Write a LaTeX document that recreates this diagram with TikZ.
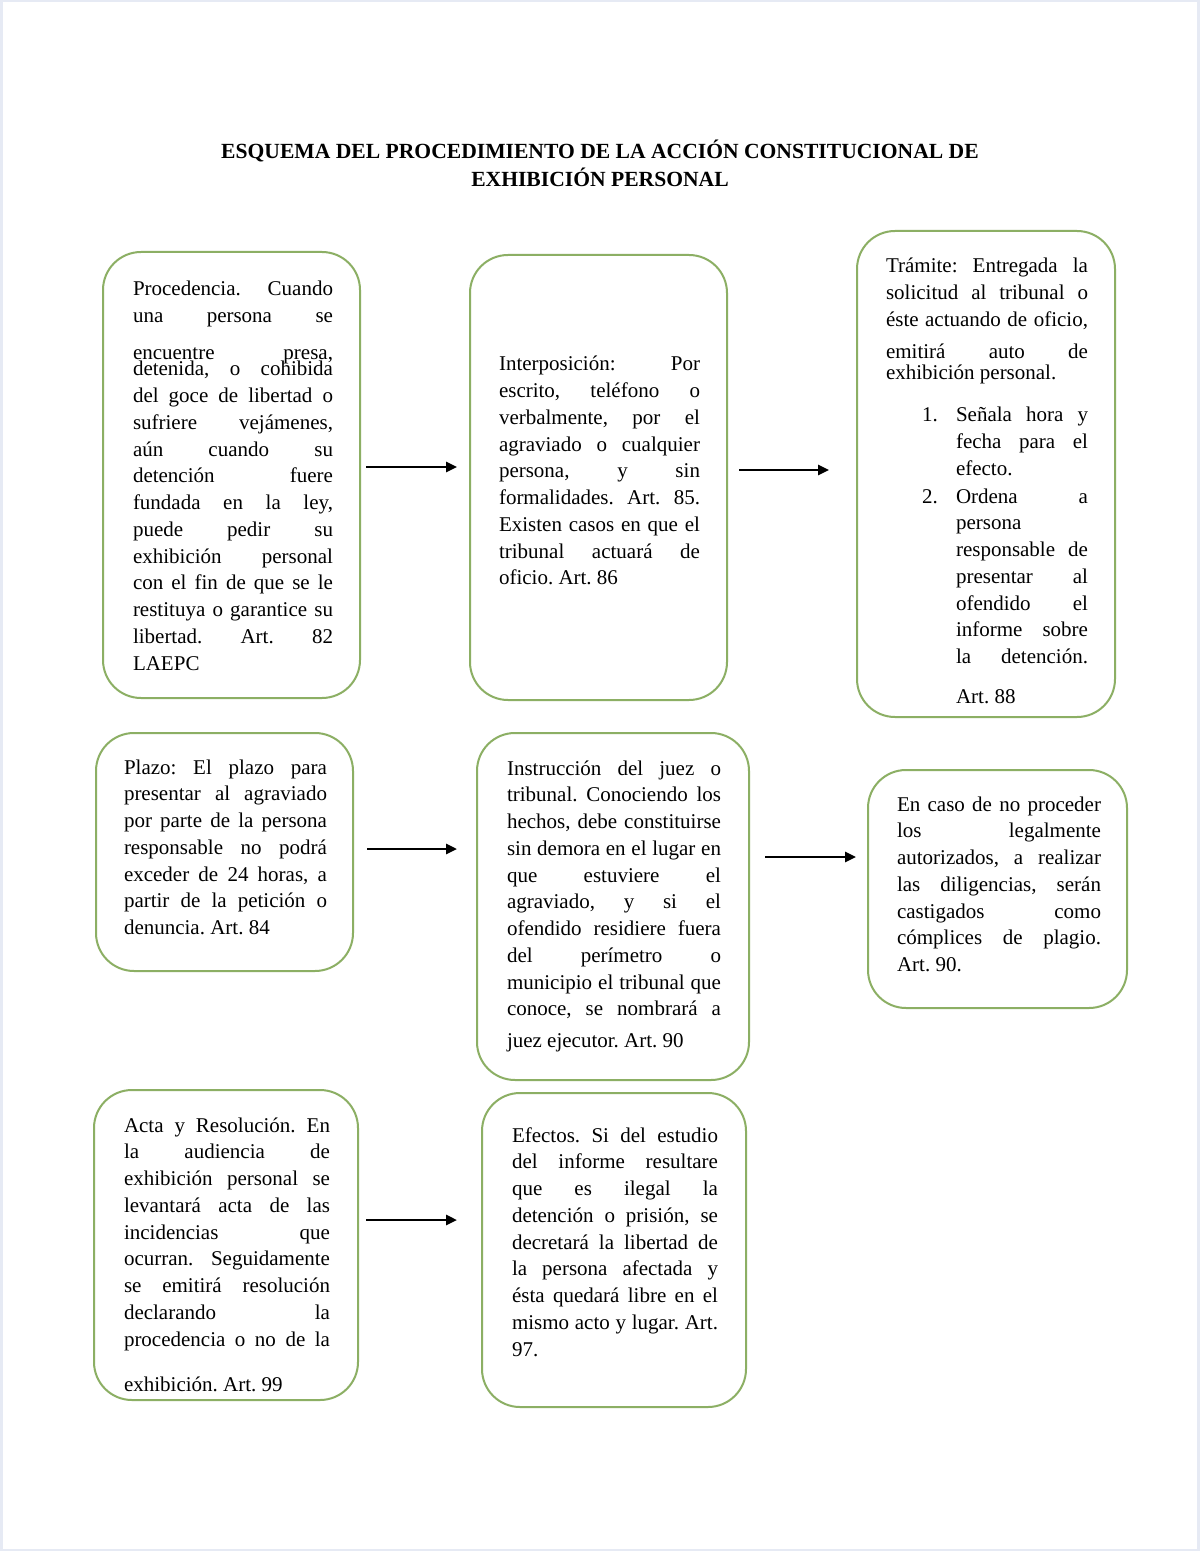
\documentclass[tikz,border=0pt]{standalone}
\usepackage{fontspec}
\setmainfont{Liberation Serif}
\usetikzlibrary{arrows.meta,fit}
\definecolor{boxgreen}{HTML}{8CAF64}
\definecolor{pageedge}{HTML}{E6EAF4}
\newcommand\boxfont{\fontsize{10.5pt}{13.375pt}\selectfont\frenchspacing}
% justified line
\newcommand\jline[1]{\hbox to \hsize{\spaceskip=\fontdimen2\font plus 1fil\relax #1}}
% last (left-aligned) line
\newcommand\lline[1]{\hbox{#1}}
% list item lines (box 3)
\newcommand\itemj[1]{\hbox to \hsize{\hskip35pt\hbox to 66pt{\spaceskip=\fontdimen2\font plus 1fil\relax #1}\hss}}
\newcommand\iteml[1]{\hbox to \hsize{\hskip35pt #1\hss}}
\newcommand\itemf[2]{\hbox to \hsize{\hskip18pt\hbox to 17pt{#1\hss}\hbox to 66pt{\spaceskip=\fontdimen2\font plus 1fil\relax #2}\hss}}
\tikzset{
  box/.style={draw=boxgreen, line width=1pt, rounded corners=19pt, inner sep=0pt, fill=white},
  txt/.style={anchor=base west, inner sep=0pt, outer sep=0pt},
  arr/.style={draw=black, line width=1.3pt, -{Triangle[length=5.5pt,width=5pt]}},
  ttl/.style={anchor=base, inner sep=0pt, align=center, font=\fontsize{10.8pt}{14pt}\selectfont\bfseries}
}
\begin{document}
\begin{tikzpicture}[x=0.5pt,y=-0.5pt]
\useasboundingbox (0,0) rectangle (1200,1551);
\fill[pageedge] (0,0) rectangle (1200,1551);
\fill[white] (3,2) rectangle (1197,1549);

\node[ttl] (title) at (600,187) {ESQUEMA DEL PROCEDIMIENTO DE LA ACCIÓN CONSTITUCIONAL DE\\EXHIBICIÓN PERSONAL};

% boxes
\node[box, fit={(103,252) (360,698)}] (b1) {};
\node[box, fit={(470,255) (727,700)}] (b2) {};
\node[box, fit={(857,231) (1115,717)}] (b3) {};
\node[box, fit={(96,733) (353,971)}] (b4) {};
\node[box, fit={(477,733) (749,1080)}] (b5) {};
\node[box, fit={(868,770) (1127,1008)}] (b6) {};
\node[box, fit={(94,1090) (358,1400)}] (b7) {};
\node[box, fit={(482,1093) (746,1407)}] (b8) {};

% texts
\node[txt] (t1) at (133,296) {\vtop{\hsize=100pt\boxfont
\jline{Procedencia. Cuando}
\jline{una persona se}\vskip5.2pt
\jline{encuentre presa,}\vskip-5.35pt
\jline{detenida, o cohibida}
\jline{del goce de libertad o}
\jline{sufriere vejámenes,}
\jline{aún cuando su}
\jline{detención fuere}
\jline{fundada en la ley,}
\jline{puede pedir su}
\jline{exhibición personal}
\jline{con el fin de que se le}
\jline{restituya o garantice su}
\jline{libertad. Art. 82}
\lline{LAEPC}}};

\node[txt] (t2) at (499,371) {\vtop{\hsize=100.5pt\boxfont
\jline{Interposición: Por}
\jline{escrito, teléfono o}
\jline{verbalmente, por el}
\jline{agraviado o cualquier}
\jline{persona, y sin}
\jline{formalidades. Art. 85.}
\jline{Existen casos en que el}
\jline{tribunal actuará de}
\lline{oficio. Art. 86}}};

\node[txt] (t3) at (886,273) {\vtop{\hsize=101pt\boxfont
\jline{Trámite: Entregada la}
\jline{solicitud al tribunal o}
\jline{éste actuando de oficio,}\vskip2.65pt
\jline{emitirá auto de}\vskip-2.85pt
\lline{exhibición personal.}\vskip7.65pt
\itemf{1.}{Señala hora y}
\itemj{fecha para el}
\iteml{efecto.}\vskip0.65pt
\itemf{2.}{Ordena a}
\iteml{persona}
\itemj{responsable de}
\itemj{presentar al}
\itemj{ofendido el}
\itemj{informe sobre}
\itemj{la detención.}\vskip6.65pt
\iteml{Art. 88}}};

\node[txt] (t4) at (124,774) {\vtop{\hsize=101.5pt\boxfont
\jline{Plazo: El plazo para}
\jline{presentar al agraviado}
\jline{por parte de la persona}
\jline{responsable no podrá}
\jline{exceder de 24 horas, a}
\jline{partir de la petición o}
\lline{denuncia. Art. 84}}};

\node[txt] (t5) at (507,775) {\vtop{\hsize=107pt\boxfont
\jline{Instrucción del juez o}
\jline{tribunal. Conociendo los}
\jline{hechos, debe constituirse}
\jline{sin demora en el lugar en}
\jline{que estuviere el}
\jline{agraviado, y si el}
\jline{ofendido residiere fuera}
\jline{del perímetro o}
\jline{municipio el tribunal que}
\jline{conoce, se nombrará a}\vskip2.65pt
\lline{juez ejecutor. Art. 90}}};

\node[txt] (t6) at (897,811) {\vtop{\hsize=102pt\boxfont
\jline{En caso de no proceder}
\jline{los legalmente}
\jline{autorizados, a realizar}
\jline{las diligencias, serán}
\jline{castigados como}
\jline{cómplices de plagio.}
\lline{Art. 90.}}};

\node[txt] (t7) at (124,1132) {\vtop{\hsize=103pt\boxfont
\jline{Acta y Resolución. En}
\jline{la audiencia de}
\jline{exhibición personal se}
\jline{levantará acta de las}
\jline{incidencias que}
\jline{ocurran. Seguidamente}
\jline{se emitirá resolución}
\jline{declarando la}
\jline{procedencia o no de la}\vskip9.15pt
\lline{exhibición. Art. 99}}};

\node[txt] (t8) at (512,1142) {\vtop{\hsize=103pt\boxfont
\jline{Efectos. Si del estudio}
\jline{del informe resultare}
\jline{que es ilegal la}
\jline{detención o prisión, se}
\jline{decretará la libertad de}
\jline{la persona afectada y}
\jline{ésta quedará libre en el}
\jline{mismo acto y lugar. Art.}
\lline{97.}}};

% arrows
\draw[arr, shorten <=2.5pt, shorten >=6pt] (b1.east |- 0,467) -- (b2.west |- 0,467);
\draw[arr, shorten <=5.5pt, shorten >=13.5pt] (b2.east |- 0,470) -- (b3.west |- 0,470);
\draw[arr, shorten <=6.5pt, shorten >=9.5pt] (b4.east |- 0,849) -- (b5.west |- 0,849);
\draw[arr, shorten <=7.5pt, shorten >=5.5pt] (b5.east |- 0,857) -- (b6.west |- 0,857);
\draw[arr, shorten <=3.5pt, shorten >=12pt] (b7.east |- 0,1220) -- (b8.west |- 0,1220);
\end{tikzpicture}
\end{document}
